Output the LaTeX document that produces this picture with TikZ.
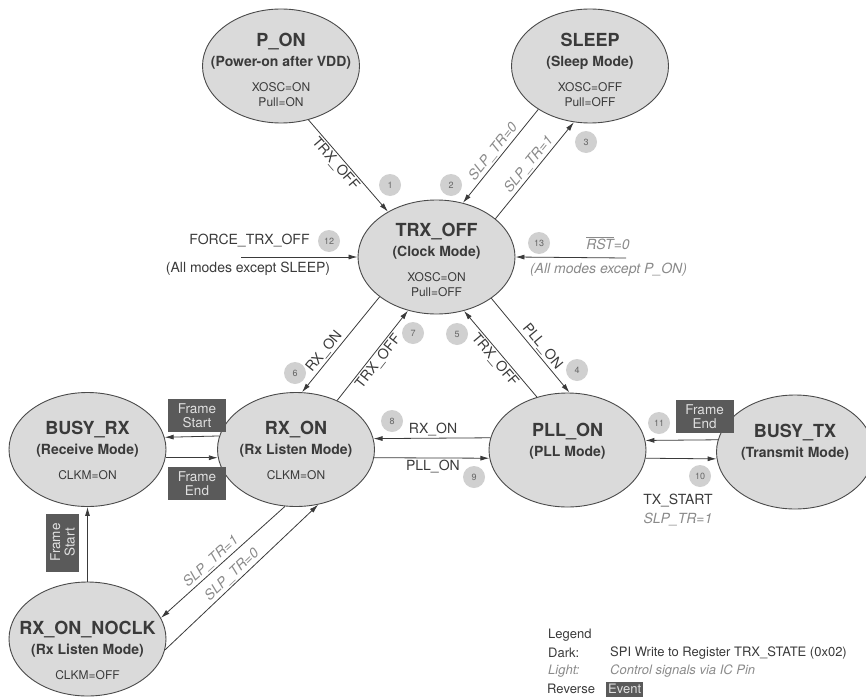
\documentclass[tikz,border=0pt]{standalone}
\usepackage{fontspec}
\setmainfont{TeX Gyre Heros}
\usepackage{tikz}
\usetikzlibrary{arrows.meta, shapes.geometric}
\definecolor{stfill}{HTML}{DADADA}
\definecolor{stline}{HTML}{4A4A4A}
\definecolor{darktxt}{HTML}{3A3A3A}
\definecolor{lighttxt}{HTML}{8A8A8A}
\definecolor{evfill}{HTML}{5A5A5A}
\definecolor{badge}{HTML}{D0D0D0}
\newcommand{\statetitle}[1]{{\bfseries\fontsize{18}{18}\selectfont #1}}
\newcommand{\statemode}[1]{{\bfseries\fontsize{14}{14}\selectfont #1}}

\begin{document}
\begin{tikzpicture}[x=1pt, y=-1pt,
    state/.style={ellipse, draw=stline, line width=0.9pt, fill=stfill, minimum width=157pt, minimum height=114pt, inner sep=0pt},
    statetext/.style={anchor=north, align=center, inner sep=0pt, text=darktxt, font=\fontsize{12}{14.5}\selectfont},
    arr/.style={-{Latex[length=9pt, width=5pt]}, line width=0.8pt, draw=darktxt},
    lbl/.style={font=\fontsize{14}{16}\selectfont, text=darktxt, inner sep=1.5pt},
    pinlbl/.style={font=\fontsize{14}{16}\selectfont\itshape, text=lighttxt, inner sep=1.5pt},
    num/.style={circle, fill=badge, minimum size=22pt, inner sep=0pt, font=\fontsize{9}{9}\selectfont, text=black!60},
    event/.style={fill=evfill, text=white!88!black, align=center, inner sep=0pt, minimum width=58pt, minimum height=33pt, font=\fontsize{13.5}{14.5}\selectfont},
    legend/.style={anchor=west, inner sep=0pt, font=\fontsize{13}{15}\selectfont, text=darktxt}]
    \clip (0,0) rectangle (866,698);

    % States
    \node[state] (pon) at (281,66) {};
    \node[statetext] (pon-txt) at (281,33.2) {\statetitle{P\_ON}\\[5pt]\statemode{(Power-on after VDD)}\\[11pt]XOSC=ON\\Pull=ON};
    \node[state] (sleep) at (590,66) {};
    \node[statetext] (sleep-txt) at (590,33.2) {\statetitle{SLEEP}\\[5pt]\statemode{(Sleep Mode)}\\[11pt]XOSC=OFF\\Pull=OFF};
    \node[state] (trxoff) at (436.5,257) {};
    \node[statetext] (trxoff-txt) at (436.5,223.2) {\statetitle{TRX\_OFF}\\[5pt]\statemode{(Clock Mode)}\\[11pt]XOSC=ON\\Pull=OFF};
    \node[state] (rxon) at (296,449.5) {};
    \node[statetext] (rxon-txt) at (296,421.2) {\statetitle{RX\_ON}\\[5pt]\statemode{(Rx Listen Mode)}\\[11pt]CLKM=ON};
    \node[state] (busyrx) at (87.5,449.5) {};
    \node[statetext] (busyrx-txt) at (87.5,421.2) {\statetitle{BUSY\_RX}\\[5pt]\statemode{(Receive Mode)}\\[11pt]CLKM=ON};
    \node[state] (rxnoclk) at (87.5,639) {};
    \node[statetext] (rxnoclk-txt) at (87.5,621.2) {\statetitle{RX\_ON\_NOCLK}\\[5pt]\statemode{(Rx Listen Mode)}\\[11pt]CLKM=OFF};
    \node[state] (pllon) at (567.5,450) {};
    \node[statetext] (pllon-txt) at (567.5,423.2) {\statetitle{PLL\_ON}\\[5pt]\statemode{(PLL Mode)}};
    \node[state] (busytx) at (795,452) {};
    \node[statetext] (busytx-txt) at (795,424.2) {\statetitle{BUSY\_TX}\\[5pt]\statemode{(Transmit Mode)}};

    % Transitions around TRX_OFF
    \draw[arr] (pon.-63) -- node[lbl, sloped, below, pos=0.42] (t1) {TRX\_OFF} (trxoff.137);
    \draw[arr] (sleep.-140) -- node[pinlbl, sloped, above, pos=0.51] (t2) {SLP\_TR=0} (trxoff.64);
    \draw[arr] (trxoff.33) -- node[pinlbl, sloped, above, pos=0.51] (t3) {SLP\_TR=1} (sleep.-106);
    \draw[arr] (trxoff.-37) -- node[lbl, sloped, above, pos=0.57] (t4) {PLL\_ON} (pllon.88);
    \draw[arr] (pllon.120) -- node[lbl, sloped, below, pos=0.49] (t5) {TRX\_OFF} (trxoff.-63);
    \draw[arr] (trxoff.-145) -- node[lbl, sloped, above, pos=0.63] (t6) {RX\_ON} (rxon.84);
    \draw[arr] (rxon.50) -- node[lbl, sloped, below, pos=0.49] (t7) {TRX\_OFF} (trxoff.-118);
    \draw[arr] (pllon.171) -- node[lbl, above, pos=0.49] (t8) {RX\_ON} (rxon.8.5);
    \draw[arr] (rxon.-6) -- node[lbl, below, pos=0.51] (t9) {PLL\_ON} (pllon.186);

    % Forced transitions
    \coordinate (force) at (241,257);
    \node[lbl] (force-lbl) at (249.5,241) {FORCE\_TRX\_OFF};
    \node[lbl] (force-note) at (248,269) {(All modes except SLEEP)};
    \draw[arr] (force) -- (trxoff.west);
    \coordinate (reset) at (626,258);
    \node[pinlbl] (reset-lbl) at (608,243) {$\overline{\mbox{RST}}$=0};
    \node[pinlbl] (reset-note) at (608.5,270) {(All modes except P\_ON)};
    \draw[arr] (reset) -- (trxoff.east);

    % Transmit side
    \draw[arr] (pllon.-6.6) -- (busytx.185);
    \draw[arr] (busytx.171.3) -- (pllon.7.3);
    \node[event] (tx-end) at (704.5,416.5) {Frame\\End};
    \node[lbl] (tx-start) at (678,501) {TX\_START};
    \node[pinlbl] (tx-slp) at (678,520) {SLP\_TR=1};

    % Receive side
    \draw[arr] (rxon.170.9) -- (busyrx.9.1);
    \draw[arr] (busyrx.-6.2) -- (rxon.186.2);
    \node[event] (rx-start) at (197,415.5) {Frame\\Start};
    \node[event] (rx-end) at (197,483.5) {Frame\\End};
    \draw[arr] (rxnoclk.north) -- (busyrx.south);
    \node[event, rotate=90] (noclk-start) at (62.5,542.5) {Frame\\Start};
    \draw[arr] (rxon.-101) -- node[pinlbl, sloped, above, pos=0.55] (t14) {SLP\_TR=1} (rxnoclk.16);
    \draw[arr] (rxnoclk.-8) -- node[pinlbl, sloped, above, pos=0.475] (t15) {SLP\_TR=0} (rxon.-68);

    % Numbered badges
    \foreach \n/\x/\y in {1/390/185, 2/451/185, 3/586/142, 4/577/370, 5/457/334, 6/295/373, 7/413/333,
                         8/392/421, 9/474/477, 10/700/476, 11/659/423, 12/329/241, 13/539/243}
        \node[num] (c\n) at (\x,\y) {\n};

    % Legend
    \node[legend] (leg) at (548,635) {Legend};
    \node[legend] (leg-dark) at (548,653) {Dark:};
    \node[legend] (leg-dark-txt) at (610,653) {SPI Write to Register TRX\_STATE (0x02)};
    \node[legend, text=lighttxt, font=\fontsize{13}{15}\selectfont\itshape] (leg-light) at (548,671) {Light:};
    \node[legend, text=lighttxt, font=\fontsize{13}{15}\selectfont\itshape] (leg-light-txt) at (610,671) {Control signals via IC Pin};
    \node[legend] (leg-rev) at (547,689) {Reverse};
    \node[event, anchor=west, minimum width=0pt, minimum height=15pt, inner xsep=2pt, font=\fontsize{13}{15}\selectfont] (leg-event) at (606,689) {Event};
\end{tikzpicture}
\end{document}
